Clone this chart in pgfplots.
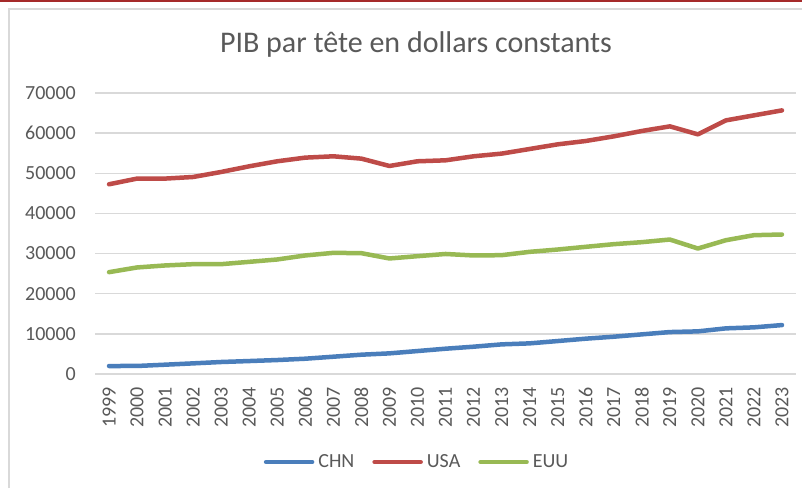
\documentclass[border=0pt]{standalone}
\usepackage{pgfplots}
\pgfplotsset{compat=1.18}
\usepackage{pgfplotstable}
\usepackage{fontspec}
\setmainfont{Carlito}
\definecolor{txtgray}{HTML}{595959}
\definecolor{gridgray}{HTML}{D9D9D9}
\definecolor{cblue}{HTML}{4A7EBB}
\definecolor{cred}{HTML}{BE4B48}
\definecolor{cgreen}{HTML}{98B954}
\definecolor{topred}{HTML}{A52A2A}
\pgfplotstableread{
x year CHN USA EUU
0 1999 1990 47260 25370
1 2000 2000 48680 26540
2 2001 2320 48680 27040
3 2002 2650 49080 27360
4 2003 2990 50330 27360
5 2004 3230 51740 27940
6 2005 3480 52990 28530
7 2006 3810 53900 29530
8 2007 4310 54230 30180
9 2008 4810 53650 30100
10 2009 5140 51820 28780
11 2010 5720 52990 29350
12 2011 6300 53230 29900
13 2012 6800 54230 29530
14 2013 7380 54900 29600
15 2014 7630 56050 30430
16 2015 8210 57210 31010
17 2016 8800 58040 31680
18 2017 9290 59200 32340
19 2018 9870 60530 32840
20 2019 10450 61690 33500
21 2020 10620 59700 31260
22 2021 11370 63180 33330
23 2022 11620 64430 34580
24 2023 12190 65670 34750
}\datatable
\begin{document}
\begin{tikzpicture}[x=1pt,y=1pt]
\useasboundingbox (0,0) rectangle (802,488);
\fill[white] (0,0) rectangle (802,488);
\draw[topred,line width=2pt] (0,487) -- (802,487);
\draw[gridgray,line width=2pt] (9,0) -- (9,479) -- (802,479);
\begin{axis}[
  at={(95pt,114pt)}, anchor=south west,
  scale only axis, width=701pt, height=281pt,
  xmin=-0.5, xmax=24.5, ymin=0, ymax=70000,
  xtick={0,...,24},
  xticklabels={1999,2000,2001,2002,2003,2004,2005,2006,2007,2008,2009,2010,2011,2012,2013,2014,2015,2016,2017,2018,2019,2020,2021,2022,2023},
  ytick={0,10000,20000,30000,40000,50000,60000,70000},
  yticklabels={0,10000,20000,30000,40000,50000,60000,70000},
  scaled y ticks=false,
  axis line style={draw=none},
  major tick length=0pt,
  ymajorgrids, major grid style={gridgray,line width=1.5pt},
  tick label style={font=\fontsize{20}{24}\selectfont, text=txtgray},
  xticklabel style={rotate=90, anchor=east, inner sep=0pt},
  xticklabel shift=13pt,
  yticklabel style={anchor=east, inner sep=0pt},
  yticklabel shift=19pt,
  title={PIB par tête en dollars constants},
  title style={font=\fontsize{30}{36}\selectfont, text=txtgray, at={(0.4579,1)}, anchor=base, yshift=34pt, inner sep=0pt},
  legend columns=3,
  legend style={draw=none, fill=none, at={(0.458,-0.313)}, anchor=center,
    font=\fontsize{20}{24}\selectfont, text=txtgray,
    /tikz/every odd column/.append style={column sep=4pt},
    /tikz/every even column/.append style={column sep=18pt},
    nodes={inner sep=0pt}},
  legend image code/.code={\draw[#1] (0pt,0pt) -- (46pt,0pt);},
  clip=false,
]
\addplot[cblue, line width=4.5pt, line join=round, line cap=round] table[x=x,y=CHN]{\datatable};
\addlegendentry{CHN}
\addplot[cred, line width=4.5pt, line join=round, line cap=round] table[x=x,y=USA]{\datatable};
\addlegendentry{USA}
\addplot[cgreen, line width=4.5pt, line join=round, line cap=round] table[x=x,y=EUU]{\datatable};
\addlegendentry{EUU}
\end{axis}
\end{tikzpicture}
\end{document}
